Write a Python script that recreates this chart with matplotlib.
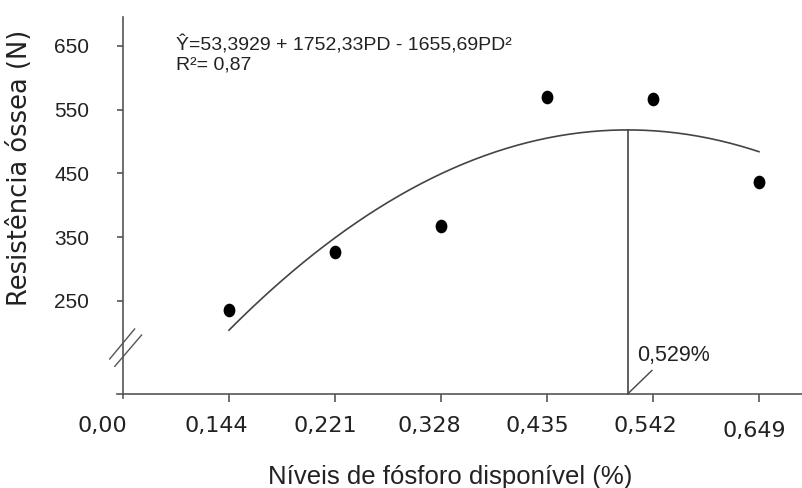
import matplotlib
matplotlib.use("Agg")
import matplotlib.pyplot as plt
import matplotlib.transforms as mtransforms
from matplotlib.markers import MarkerStyle
import numpy as np

plt.rcParams['font.family'] = ['Liberation Sans', 'DejaVu Sans']

# x axis is categorical: tick labels at equally spaced positions 0..6
x_labels = ['0,00', '0,144', '0,221', '0,328', '0,435', '0,542', '0,649']
x_pos = [1, 2, 3, 4, 5, 6]
resistance = [236, 326, 367, 570, 566, 436]

# fitted curve as drawn (vertex form, in axis position units)
curve_start, curve_end = 1.0, 6.0
peak_pos = 4.76
peak_val = 518
curvature = 22.2
max_label = '0,529%'

y_ticks = [250, 350, 450, 550, 650]
equation = 'Ŷ=53,3929 + 1752,33PD - 1655,69PD²'
r2_text = 'R²= 0,87'

axis_color = '#555555'
line_color = '#444444'

fig = plt.figure(figsize=(8.03, 4.88), dpi=100)
ax = fig.add_axes([0.1452, 0.1846, 0.8554, 0.7806])

x_base = 104
ax.set_xlim(-0.06, 6.42)
ax.set_ylim(98, 695)

# data points
mk = MarkerStyle('o', transform=mtransforms.Affine2D().scale(0.85, 1.0))
ax.plot(x_pos, resistance, linestyle='none', marker=mk, markersize=8.8,
        color='black', zorder=3)

# regression curve
t = np.linspace(curve_start, curve_end, 200)
ax.plot(t, peak_val - curvature * (t - peak_pos) ** 2, color=line_color, lw=1.2)

# line at the maximum point
ax.plot([peak_pos, peak_pos], [x_base, peak_val], color=line_color, lw=1.2)
ax.plot([peak_pos, peak_pos + 0.23], [x_base, 141], color=line_color, lw=1.0)
ax.text(peak_pos + 0.09, 165, max_label, fontsize=15.5, ha='left', va='center',
        color='#222222')

# axes styling
for s in ['top', 'right']:
    ax.spines[s].set_visible(False)
ax.spines['left'].set_position(('data', 0))
ax.spines['bottom'].set_position(('data', x_base))
for s in ['left', 'bottom']:
    ax.spines[s].set_color(axis_color)
    ax.spines[s].set_linewidth(1.2)

ax.set_yticks(y_ticks)
ax.set_yticklabels([str(v) for v in y_ticks], fontsize=15, color='#222222')
ax.tick_params(axis='y', length=4.3, width=1.2, color=axis_color, pad=20)

ax.set_xticks(range(len(x_labels)))
ax.set_xticklabels(x_labels, fontsize=16, color='#222222', family='DejaVu Sans')
ax.tick_params(axis='x', length=5.8, width=1.2, color=axis_color, pad=10)
ax.xaxis.get_major_ticks()[0].tick1line.set_visible(False)
dx = [-21, -13, -10, -12, -10, -8, -5]
dy = [0, 0, 0, 0, 0, 0, -5]
for lab, ox, oy in zip(ax.get_xticklabels(), dx, dy):
    off = mtransforms.ScaledTranslation(ox / 100, oy / 100, fig.dpi_scale_trans)
    lab.set_transform(lab.get_transform() + off)

# axis break marks
ax.plot([-0.125, 0.11], [159, 206], color=axis_color, lw=1.0, clip_on=False)
ax.plot([-0.077, 0.176], [147.5, 196.6], color=axis_color, lw=1.0, clip_on=False)

ax.set_xlabel('Níveis de fósforo disponível (%)', fontsize=18.5, color='#222222')
ax.xaxis.set_label_coords(0.4854, -0.2077)
ax.xaxis.label.set_va('center')
ax.set_ylabel('Resistência óssea (N)', fontsize=18.5, color='#222222',
              family='DejaVu Sans')
ax.yaxis.set_label_coords(-0.1406, 0.605)
ax.yaxis.label.set_va('center')

ax.text(0.086, 0.9265, equation, transform=ax.transAxes, fontsize=14,
        ha='left', va='center', color='#222222')
ax.text(0.086, 0.874, r2_text, transform=ax.transAxes, fontsize=14,
        ha='left', va='center', color='#222222')

fig.savefig('out.png', dpi=100)
